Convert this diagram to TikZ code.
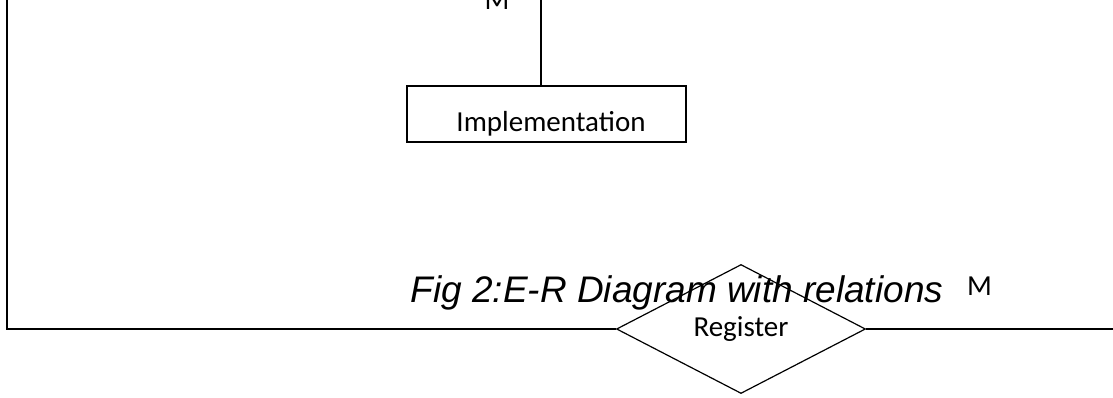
\documentclass[tikz,border=0pt]{standalone}
\usepackage{fontspec}
\setmainfont{Carlito}
\newfontfamily\capfont{Liberation Sans}
\usetikzlibrary{shapes.geometric}

\begin{document}
\begin{tikzpicture}[x=1pt, y=-1pt, line width=1.2pt, font=\fontsize{29}{34}\selectfont]
\useasboundingbox (0,0) rectangle (1113,398);
\node (impl) [draw, rectangle, minimum width=279pt, minimum height=56pt, inner sep=0pt] at (546.5,114) {};
\node (impllabel) [anchor=base, inner sep=0pt] at (551,132) {Implementation};
\node (register) [draw, diamond, minimum width=249pt, minimum height=129pt, inner sep=0pt] at (741,329) {\raisebox{-2pt}{Register}};
\node (m1) [anchor=base, inner sep=0pt] at (497,10) {M};
\node (m2) [anchor=base, inner sep=0pt] at (979.5,295) {M};
\node (caption) [anchor=base west, inner sep=0pt, font=\capfont\itshape\fontsize{37}{43}\selectfont] at (410,302) {Fig 2:E-R Diagram with relations};
\coordinate (top) at (541,0);
\coordinate (corner) at (7,0);
\coordinate (end) at (1113,329);
\draw (top) -- (top |- impl.north);
\draw (corner) |- (register.west);
\draw (register.east) -- (end);
\end{tikzpicture}
\end{document}
